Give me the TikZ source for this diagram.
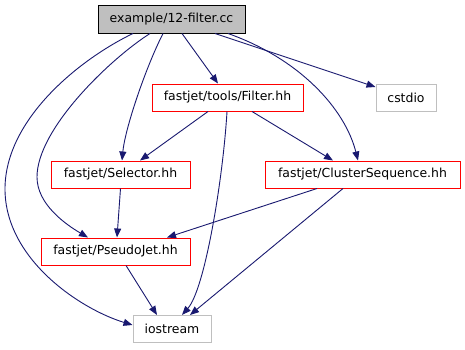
\documentclass[tikz,border=0pt]{standalone}
\usepackage{fontspec}
\setmainfont{DejaVu Sans}
\usetikzlibrary{arrows.meta}
\definecolor{edgeblue}{HTML}{191970}
\definecolor{boxred}{HTML}{FF0000}
\definecolor{boxgrey}{HTML}{BFBFBF}

\begin{document}
\begin{tikzpicture}[x=1bp,y=1bp,
    file/.style={draw,line width=1bp,minimum height=27bp,inner sep=0pt,
      font=\fontsize{12.5}{15}\selectfont},
    redfile/.style={file,draw=boxred},
    sysfile/.style={file,draw=boxgrey},
    inc/.style={draw=edgeblue,line width=0.9bp,-{Triangle[length=9bp,width=7bp]}}]
  \path[use as bounding box] (0,0) rectangle (465,349);
  \fill[white] (0,0) rectangle (465,349);

  \node[file,draw=black,fill=boxgrey,minimum width=147bp] (src) at (171.5,329.5) {example/12-filter.cc};
  \node[redfile,minimum width=151bp] (filter) at (227.5,251.5) {fastjet/tools/Filter.hh};
  \node[sysfile,minimum width=60bp] (cstdio) at (406,251.5) {cstdio};
  \node[redfile,minimum width=139bp] (selector) at (120.5,174.5) {fastjet/Selector.hh};
  \node[redfile,minimum width=195bp] (cluster) at (362.5,174.5) {fastjet/ClusterSequence.hh};
  \node[redfile,minimum width=149bp] (pseudojet) at (115.5,97.5) {fastjet/PseudoJet.hh};
  \node[sysfile,minimum width=78bp] (iostream) at (172,20) {iostream};

  \draw[inc] ([xshift=-38.5bp]src.south) .. controls (80,290) and (5,230) .. (5,160)
    .. controls (5,90) and (80,40) .. ([yshift=4bp]iostream.west);
  \draw[inc] ([xshift=-21.5bp]src.south) .. controls (110,290) and (37,220) .. (37,172)
    .. controls (37,145) and (65,125) .. ([xshift=-27.5bp]pseudojet.north);
  \draw[inc] ([xshift=-8.5bp]src.south) .. controls (145,280) and (125,220) .. ([xshift=1.5bp]selector.north);
  \draw[inc] ([xshift=10.5bp]src.south) -- ([xshift=-9.5bp]filter.north);
  \draw[inc] ([xshift=43.5bp]src.south) -- ([yshift=10.5bp]cstdio.west);
  \draw[inc] ([xshift=56.5bp]src.south) .. controls (300,290) and (345,240) .. ([xshift=-4.5bp]cluster.north);

  \draw[inc] ([xshift=-19.5bp]filter.south) -- ([xshift=19.5bp]selector.north);
  \draw[inc] ([xshift=-0.5bp]filter.south) .. controls (223,170) and (205,60) .. ([xshift=10bp]iostream.north);
  \draw[inc] ([xshift=24.5bp]filter.south) -- ([xshift=-29.5bp]cluster.north);

  \draw[inc] (selector.south) -- ([xshift=1.5bp]pseudojet.north);
  \draw[inc] ([xshift=-45.5bp]cluster.south) -- ([xshift=51.5bp]pseudojet.north);
  \draw[inc] ([xshift=-19.5bp]cluster.south) -- ([xshift=18bp]iostream.north);
  \draw[inc] ([xshift=10.5bp]pseudojet.south) -- ([xshift=-15bp]iostream.north);
\end{tikzpicture}
\end{document}
